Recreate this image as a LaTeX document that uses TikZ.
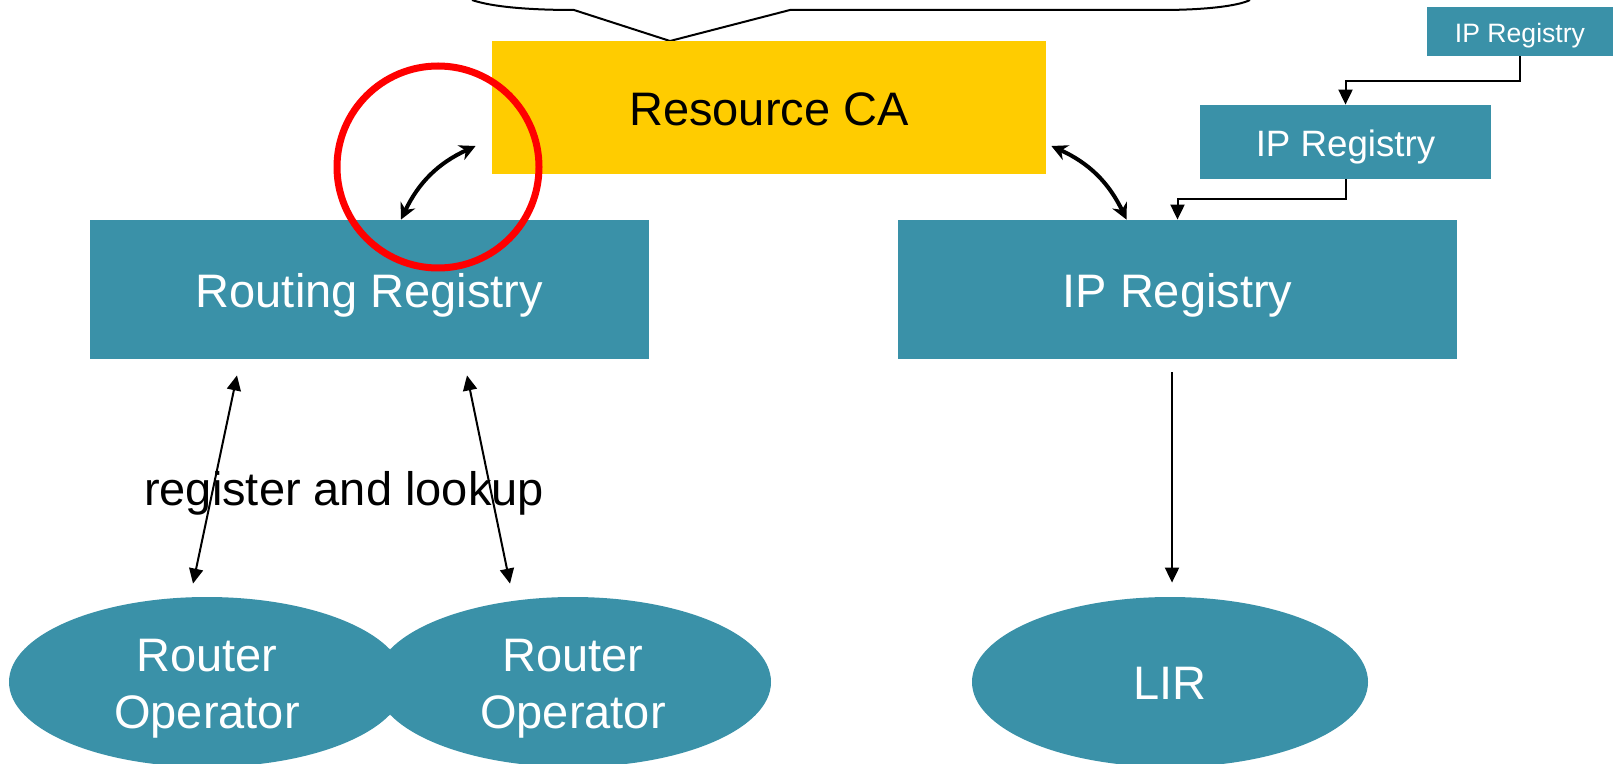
\documentclass[tikz,border=0pt]{standalone}
\usepackage{fontspec}
\setmainfont{Liberation Sans}
\usetikzlibrary{arrows.meta,shapes.geometric,calc}
\definecolor{regteal}{RGB}{58,145,168}
\definecolor{cayellow}{RGB}{255,204,0}
\begin{document}
\begin{tikzpicture}[x=0.5pt,y=0.5pt,>={Triangle[length=7.5pt,width=7pt]}]
        \useasboundingbox (0,0) rectangle (1616,-764);
        \draw[line width=1pt] (472,0) .. controls (492,-7) and (530,-10) .. (574,-10)
            -- (670,-41) -- (790,-10) -- (1161,-10) .. controls (1205,-10) and (1238,-6) .. (1250,0);
        \begin{scope}[every node/.style={rectangle,fill=regteal,text=white,inner sep=0pt,font=\fontsize{23.5}{28.5}\selectfont,text height=22.8pt,text depth=5pt,minimum width=279.5pt,minimum height=69.5pt}]
            \node[fill=cayellow,text=black,minimum width=277pt,minimum height=66.5pt] (rca) at (769,-107.5) {Resource CA};
            \node (rr) at (369.5,-289.5) {Routing Registry};
            \node (ipr) at (1177.5,-289.5) {IP Registry};
            \node[font=\fontsize{18.35}{22}\selectfont,text height=18.2pt,text depth=3.9pt,minimum width=145.5pt,minimum height=37pt] (ipm) at (1345.5,-142) {IP Registry};
            \node[font=\fontsize{13.3}{16}\selectfont,text height=13.6pt,text depth=2.8pt,minimum width=93pt,minimum height=24.5pt] (ips) at (1520,-31.5) {IP Registry};
        \end{scope}
        \begin{scope}[every node/.style={ellipse,fill=regteal,text=white,inner sep=0pt,align=center,font=\fontsize{23.5}{28.5}\selectfont,text height=51.3pt,text depth=5pt,minimum width=198pt,minimum height=85pt}]
            \node (ro1) at (207,-682) {Router\\Operator};
            \node (ro2) at (573,-682) {Router\\Operator};
            \node[text height=22.8pt] (lir) at (1170,-682) {LIR};
        \end{scope}
        \node[anchor=base,font=\fontsize{23.5}{28.5}\selectfont] (lbl) at (344,-505) {register and lookup};
        \draw[red,line width=3.5pt] (438,-167) circle[radius=101];
        \begin{scope}[every edge/.style={draw,line width=1pt,<->}]
            \path
                ($(rr.south)+(-132.5,-16)$) edge ($(ro1.north)+(-14,13)$)
                ($(rr.south)+(97.5,-16)$) edge ($(ro2.north)+(-63,13)$);
        \end{scope}
        \draw[line width=1pt,->] ($(ipr.south)+(-5.5,-13)$) -- ($(lir.north)+(2,14)$);
        \draw[line width=1pt,->] (ips.south) -- ++(0,-25) -| (ipm.north);
        \draw[line width=1pt,->] (ipm.south) -- ++(0,-20) -| (ipr.north);
        \begin{scope}[>={Stealth[length=8pt,width=8pt]},every edge/.style={draw,line width=2pt,<->}]
            \path
                ($(rr.north)+(31.5,0)$) edge[bend left=20] ($(rca.west)+(-16,-38.5)$)
                ($(rca.east)+(5,-38.5)$) edge[bend left=20] ($(ipr.north)+(-51,0)$);
        \end{scope}
\end{tikzpicture}
\end{document}
